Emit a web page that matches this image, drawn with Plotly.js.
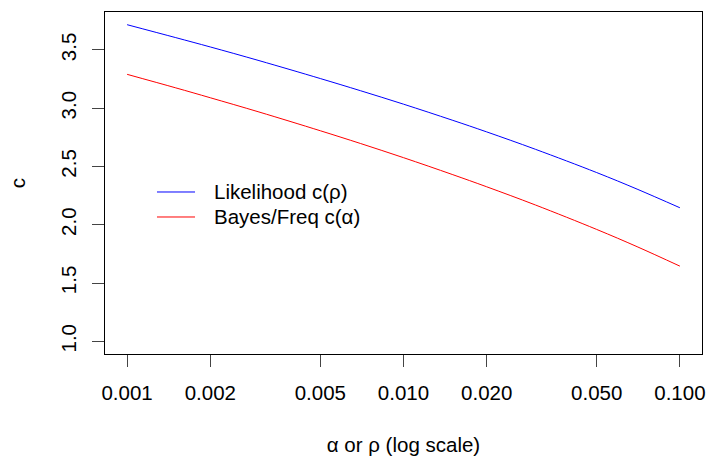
<!DOCTYPE html>
<html>
<head>
<meta charset="utf-8">
<script src="https://cdn.plot.ly/plotly-3.0.1.min.js"></script>
<style>html,body{margin:0;padding:0;background:#fff;}#chart{width:710px;height:458px;}</style>
</head>
<body>
<div id="chart"></div>
<script>
// level values (alpha or rho), log-scale x
const levels = [0.001, 0.0015, 0.002, 0.003, 0.005, 0.007, 0.01, 0.015, 0.02, 0.03, 0.05, 0.07, 0.1];
// Likelihood c(rho)
const cLikelihood = [3.717, 3.606, 3.526, 3.409, 3.255, 3.150, 3.035, 2.898, 2.797, 2.648, 2.448, 2.306, 2.146];
// Bayes/Freq c(alpha)
const cBayesFreq = [3.291, 3.175, 3.090, 2.968, 2.807, 2.697, 2.576, 2.432, 2.326, 2.170, 1.960, 1.812, 1.645];
const seriesNames = ["Likelihood c(ρ)", "Bayes/Freq c(α)"];
const seriesColors = ["#0000ff", "#ff0000"];
const xTickVals = [0.001, 0.002, 0.005, 0.01, 0.02, 0.05, 0.1];
const xTickText = ["0.001", "0.002", "0.005", "0.010", "0.020", "0.050", "0.100"];
const yTickVals = [1.0, 1.5, 2.0, 2.5, 3.0, 3.5];
const yTickText = ["1.0", "1.5", "2.0", "2.5", "3.0", "3.5"];

const font = {family: "Liberation Sans, Arial, sans-serif", size: 20.5, color: "#000"};

const traces = [
  {x: levels, y: cLikelihood, name: seriesNames[0], type: "scatter", mode: "lines",
   line: {color: seriesColors[0], width: 1, shape: "spline"}},
  {x: levels, y: cBayesFreq, name: seriesNames[1], type: "scatter", mode: "lines",
   line: {color: seriesColors[1], width: 1, shape: "spline"}}
];

// manual legend (R-style, no box)
const legendRowsY = [0.4737, 0.4006];
const shapes = [];
const annotations = [];
seriesNames.forEach((nm, i) => {
  shapes.push({type: "line", xref: "paper", yref: "paper",
    x0: 0.0871, x1: 0.1508, y0: legendRowsY[i], y1: legendRowsY[i],
    line: {color: seriesColors[i], width: 1}});
  annotations.push({xref: "paper", yref: "paper", x: 0.1800, y: legendRowsY[i],
    xanchor: "left", yanchor: "middle", text: nm, showarrow: false, font: font});
});

const layout = {
  width: 710, height: 458,
  margin: {l: 105, r: 8, t: 12, b: 104},
  paper_bgcolor: "#fff", plot_bgcolor: "#fff",
  font: font,
  showlegend: false,
  shapes: shapes,
  annotations: annotations,
  xaxis: {
    type: "log", range: [-3.08, -0.92],
    tickmode: "array", tickvals: xTickVals, ticktext: xTickText,
    ticks: "outside", ticklen: 12, tickcolor: "#444", tickwidth: 1,
    showline: true, linecolor: "#000", linewidth: 1, mirror: true,
    showgrid: false, zeroline: false,
    tickfont: font, ticklabelstandoff: 8,
    title: {text: "α or ρ (log scale)", font: font, standoff: 35}
  },
  yaxis: {
    range: [0.891, 3.826],
    tickmode: "array", tickvals: yTickVals, ticktext: yTickText,
    ticks: "outside", ticklen: 12, tickcolor: "#444", tickwidth: 1,
    showline: true, linecolor: "#000", linewidth: 1, mirror: true,
    showgrid: false, zeroline: false,
    tickangle: -90, tickfont: font, ticklabelstandoff: 8,
    title: {text: "c", font: font, standoff: 25}
  }
};

Plotly.newPlot("chart", traces, layout, {displayModeBar: false, staticPlot: true});
</script>
</body>
</html>
